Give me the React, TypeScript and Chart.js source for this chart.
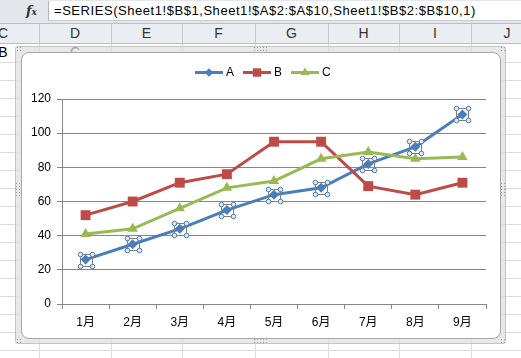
import React, { useEffect, useRef } from "react";
import { Chart, registerables } from "chart.js";
import { drawPoint } from "chart.js/helpers";

Chart.register(...registerables);

const months = ["1月", "2月", "3月", "4月", "5月", "6月", "7月", "8月", "9月"];
const seriesNames = ["A", "B", "C"];
const seriesA = [26, 35, 44, 55, 64, 68, 82, 92, 111];
const seriesB = [52, 60, 71, 76, 95, 95, 69, 64, 71];
const seriesC = [41, 44, 56, 68, 72, 85, 89, 85, 86];
const yTicks = [0, 20, 40, 60, 80, 100, 120];
const columnLetters = ["C", "D", "E", "F", "G", "H", "I", "J"];
const formulaText = "=SERIES(Sheet1!$B$1,Sheet1!$A$2:$A$10,Sheet1!$B$2:$B$10,1)";
const row1Cells = ["B", "C"];

const BLUE = "#4A7EBB";
const RED = "#BE4B48";
const GREEN = "#98B954";
const AXIS = "#868686";
const FONT = "'Liberation Sans', Arial, 'Noto Sans CJK JP', sans-serif";

const selectionPlugin = {
  id: "seriesSelection",
  afterDatasetsDraw(chart: any) {
    const meta = chart.getDatasetMeta(0);
    const ctx = chart.ctx;
    ctx.save();
    meta.data.forEach((pt: any) => {
      const { x, y } = pt.getProps(["x", "y"], true);
      const h = 6;
      const l = Math.round(x - h) + 0.5;
      const t = Math.round(y - h) + 0.5;
      ctx.strokeStyle = "#7F7F7F";
      ctx.lineWidth = 1;
      ctx.strokeRect(l, t, 2 * h, 2 * h);
      const corners = [
        [l, t],
        [l + 2 * h, t],
        [l, t + 2 * h],
        [l + 2 * h, t + 2 * h],
      ];
      corners.forEach(([cx, cy]) => {
        ctx.beginPath();
        ctx.arc(cx, cy, 2.3, 0, Math.PI * 2);
        ctx.fillStyle = "#DDEBF7";
        ctx.fill();
        ctx.strokeStyle = "#4F7BAA";
        ctx.stroke();
      });
    });
    ctx.restore();
  },
};

const legendPlugin = {
  id: "excelLegend",
  afterDraw(chart: any) {
    const ctx = chart.ctx;
    ctx.save();
    ctx.font = `12px ${FONT}`;
    const lineLen = 28;
    const textGap = 3;
    const itemGap = 9;
    const items = chart.data.datasets.map((ds: any) => ds);
    const widths = items.map((ds: any) => lineLen + textGap + ctx.measureText(ds.label).width);
    const total = widths.reduce((a: number, b: number) => a + b, 0) + itemGap * (items.length - 1);
    let x = Math.round(chart.width / 2 - total / 2) + 2;
    const y = 19.5;
    items.forEach((ds: any, i: number) => {
      ctx.strokeStyle = ds.borderColor;
      ctx.lineWidth = 3;
      ctx.beginPath();
      ctx.moveTo(x, y);
      ctx.lineTo(x + lineLen, y);
      ctx.stroke();
      ctx.fillStyle = ds.backgroundColor;
      ctx.strokeStyle = ds.backgroundColor;
      drawPoint(ctx, { pointStyle: ds.pointStyle, radius: ds.pointRadius * 0.85, rotation: 0, borderWidth: 0 } as any, x + lineLen / 2, y);
      ctx.fillStyle = "#000";
      ctx.textBaseline = "middle";
      ctx.textAlign = "left";
      ctx.fillText(ds.label, x + lineLen + textGap, y);
      x += widths[i] + itemGap;
    });
    ctx.restore();
  },
};

function ExcelChart() {
  const canvasRef = useRef<HTMLCanvasElement>(null);
  useEffect(() => {
    const chart = new Chart(canvasRef.current as HTMLCanvasElement, {
      type: "line",
      data: {
        labels: months,
        datasets: [
          {
            label: seriesNames[0],
            data: seriesA,
            borderColor: BLUE,
            backgroundColor: BLUE,
            pointBackgroundColor: BLUE,
            pointStyle: "rectRot",
            pointRadius: 5,
            pointBorderWidth: 0,
            borderWidth: 3,
            order: 3,
          },
          {
            label: seriesNames[1],
            data: seriesB,
            borderColor: RED,
            backgroundColor: RED,
            pointBackgroundColor: RED,
            pointStyle: "rect",
            pointRadius: 7,
            pointBorderWidth: 0,
            borderWidth: 3,
            order: 2,
          },
          {
            label: seriesNames[2],
            data: seriesC,
            borderColor: GREEN,
            backgroundColor: GREEN,
            pointBackgroundColor: GREEN,
            pointStyle: "triangle",
            pointRadius: 6,
            pointBorderWidth: 0,
            borderWidth: 3,
            order: 1,
          },
        ],
      },
      options: {
        responsive: false,
        animation: false,
        events: [],
        layout: { padding: { top: 46, right: 14, bottom: 0, left: 0 } },
        plugins: { legend: { display: false }, tooltip: { enabled: false } },
        scales: {
          x: {
            offset: true,
            grid: { offset: true, drawOnChartArea: false, drawTicks: true, tickLength: 5, color: AXIS },
            border: { color: AXIS, width: 1 },
            ticks: { color: "#000", font: { family: FONT, size: 12 }, padding: 6, maxRotation: 0, autoSkip: false },
            afterFit: (s: any) => {
              s.height = 34;
            },
          },
          y: {
            min: 0,
            max: 120,
            afterBuildTicks: (s: any) => {
              s.ticks = yTicks.map((v) => ({ value: v }));
            },
            grid: { color: AXIS, tickLength: 5, lineWidth: 1 },
            border: { color: AXIS, width: 1 },
            ticks: { color: "#000", font: { family: FONT, size: 12 }, padding: 6 },
            afterFit: (s: any) => {
              s.width = 40;
            },
          },
        },
      },
      plugins: [selectionPlugin, legendPlugin],
    } as any);
    return () => chart.destroy();
  }, []);
  return (
    <canvas
      ref={canvasRef}
      width={478}
      height={285}
      style={{ position: "absolute", left: 22, top: 53, width: 478, height: 285 }}
    />
  );
}

const colBounds = [39, 111, 182, 255, 328, 399, 471];

function Dots({ x, y, w, h }: { x: number; y: number; w: number; h: number }) {
  return (
    <div
      style={{
        position: "absolute",
        left: x,
        top: y,
        width: w,
        height: h,
        backgroundImage: "radial-gradient(circle, #9c9c9c 0.7px, transparent 0.9px)",
        backgroundSize: "3px 3px",
      }}
    />
  );
}

export default function App() {
  const rowLines: number[] = [];
  for (let yy = 62; yy < 358; yy += 18) rowLines.push(yy);
  const centers = [3, 75, 146.5, 218.5, 291.5, 363.5, 435, 507];
  return (
    <div
      style={{
        position: "absolute",
        left: 0,
        top: 0,
        width: 521,
        height: 358,
        overflow: "hidden",
        background: "#fff",
        fontFamily: FONT,
      }}
    >
      {rowLines.map((yy) => (
        <div key={"r" + yy} style={{ position: "absolute", left: 0, top: yy, width: 521, height: 1, background: "#DADCDD" }} />
      ))}
      {colBounds.map((xx) => (
        <div key={"c" + xx} style={{ position: "absolute", left: xx, top: 44, width: 1, height: 314, background: "#DADCDD" }} />
      ))}
      {row1Cells.map((t, i) => (
        <div
          key={"cell" + i}
          style={{
            position: "absolute",
            left: centers[i] - 20,
            width: 40,
            top: 43,
            height: 18,
            lineHeight: "18px",
            textAlign: "center",
            fontSize: 14,
            color: "#000",
          }}
        >
          {t}
        </div>
      ))}
      <div style={{ position: "absolute", left: 0, top: 0, width: 521, height: 24, background: "#E3E7EC" }} />
      <div
        style={{
          position: "absolute",
          left: 26,
          top: 3,
          fontFamily: "'DejaVu Serif', serif",
          fontStyle: "italic",
          fontWeight: "bold",
          fontSize: 13,
          color: "#333",
        }}
      >
        f<span style={{ fontSize: 9 }}>x</span>
      </div>
      <div
        style={{
          position: "absolute",
          left: 48,
          top: 1,
          width: 473,
          height: 20,
          background: "#fff",
          borderLeft: "1px solid #AEB6C0",
          borderBottom: "1px solid #C5CCD4",
          boxSizing: "border-box",
        }}
      />
      <div
        style={{
          position: "absolute",
          left: 54,
          top: 3,
          fontSize: 13,
          letterSpacing: "0.55px",
          color: "#000",
          whiteSpace: "nowrap",
          lineHeight: "16px",
        }}
      >
        {formulaText}
      </div>
      <div
        style={{
          position: "absolute",
          left: 0,
          top: 23,
          width: 521,
          height: 21,
          background: "#EAEDF1",
          borderTop: "1px solid #B8BEC6",
          borderBottom: "1px solid #B8BEC6",
          boxSizing: "border-box",
        }}
      />
      {colBounds.map((xx) => (
        <div key={"h" + xx} style={{ position: "absolute", left: xx, top: 24, width: 1, height: 19, background: "#C2C8D0" }} />
      ))}
      {columnLetters.map((t, i) => (
        <div
          key={"hl" + t}
          style={{
            position: "absolute",
            left: centers[i] - 20,
            width: 40,
            top: 24,
            height: 19,
            lineHeight: "19px",
            textAlign: "center",
            fontSize: 14,
            color: "#333",
          }}
        >
          {t}
        </div>
      ))}
      <div
        style={{
          position: "absolute",
          left: 15,
          top: 46,
          width: 491,
          height: 298,
          background: "rgba(222,222,222,0.7)",
          border: "1px solid #C4C4C4",
          borderRadius: 3,
          boxSizing: "border-box",
        }}
      />
      <div
        style={{
          position: "absolute",
          left: 21,
          top: 52,
          width: 480,
          height: 287,
          background: "#fff",
          border: "1px solid #A8A8A8",
          borderRadius: 8,
          boxSizing: "border-box",
        }}
      />
      <Dots x={253} y={46} w={15} h={6} />
      <Dots x={253} y={338} w={15} h={6} />
      <Dots x={15} y={182} w={6} h={15} />
      <Dots x={500} y={182} w={6} h={15} />
      <Dots x={16} y={46} w={6} h={6} />
      <Dots x={500} y={46} w={6} h={6} />
      <Dots x={16} y={338} w={6} h={6} />
      <Dots x={500} y={338} w={6} h={6} />
      <ExcelChart />
    </div>
  );
}
